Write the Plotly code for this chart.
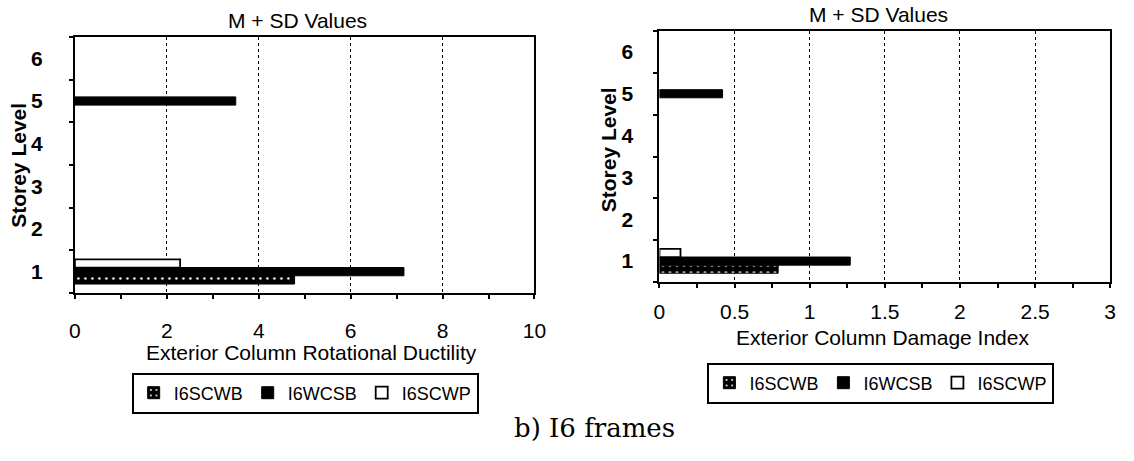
import plotly.graph_objects as go

# Storey levels (category axis) and M + SD response values per frame
storeys = ["1", "2", "3", "4", "5", "6"]
series_names = ["I6SCWB", "I6WCSB", "I6SCWP"]

ductility_scwb = [4.78, None, None, None, None, None]
ductility_wcsb = [7.16, None, None, None, 3.5, None]
ductility_scwp = [2.29, None, None, None, None, None]

damage_scwb = [0.79, None, None, None, None, None]
damage_wcsb = [1.27, None, None, None, 0.42, None]
damage_scwp = [0.14, None, None, None, None, None]

ductility_ticks = [0, 2, 4, 6, 8, 10]
damage_ticks = [0, 0.5, 1, 1.5, 2, 2.5, 3]
damage_ticktext = ["0", "0.5", "1", "1.5", "2", "2.5", "3"]

W, H = 1134, 461
FONT = "Liberation Sans, Arial, sans-serif"


def px_x(x):
    return x / W


def px_y(y):
    return 1 - y / H


def marker_style(name):
    if name == "I6SCWB":
        return dict(color="black", line=dict(color="black", width=1),
                    pattern=dict(shape=".", fgcolor="white", bgcolor="black",
                                 size=7, solidity=0.1, fillmode="replace"))
    if name == "I6WCSB":
        return dict(color="black", line=dict(color="black", width=1))
    return dict(color="white", line=dict(color="black", width=1.8))


fig = go.Figure()

panels = [
    ("x", "y", "legend", [ductility_scwb, ductility_wcsb, ductility_scwp]),
    ("x2", "y2", "legend2", [damage_scwb, damage_wcsb, damage_scwp]),
]
for xa, ya, lg, values in panels:
    for name, vals in zip(series_names, values):
        fig.add_trace(go.Bar(
            x=vals, y=storeys, orientation="h", name=name,
            marker=marker_style(name), xaxis=xa, yaxis=ya, legend=lg,
            hoverinfo="x+y+name",
        ))

axis_common = dict(showline=True, linecolor="black", linewidth=2, mirror=True,
                   zeroline=False, ticks="outside", tickcolor="black",
                   tickwidth=1.5, ticklen=4)
ytickfont = dict(size=21, family="Liberation Sans, Arial", weight="bold")

fig.update_layout(
    width=W, height=H,
    margin=dict(l=0, r=0, t=0, b=0),
    paper_bgcolor="white", plot_bgcolor="white",
    font=dict(family=FONT, color="black", size=21),
    barmode="group", bargap=0.42, bargroupgap=0,
    showlegend=True,
    xaxis=dict(domain=[px_x(70), px_x(537)], range=[0, 10], anchor="y",
               tickvals=ductility_ticks, showgrid=True, gridcolor="black",
               griddash="dot", gridwidth=1,
               minor=dict(dtick=1, ticks="outside", ticklen=4, tickcolor="black",
                          showgrid=False),
               tickfont=dict(size=21), ticklabelstandoff=14, **axis_common),
    yaxis=dict(domain=[px_y(293), px_y(37)], type="category",
               categoryorder="array", categoryarray=storeys, range=[-0.5, 5.5],
               anchor="x", tickson="boundaries", showgrid=False,
               tickfont=ytickfont, ticklabelstandoff=26, **axis_common),
    xaxis2=dict(domain=[px_x(664), px_x(1122)], range=[0, 3], anchor="y2",
                tickvals=damage_ticks, ticktext=damage_ticktext, showgrid=True,
                gridcolor="black", griddash="dot", gridwidth=1,
                minor=dict(dtick=0.25, ticks="outside", ticklen=4, tickcolor="black",
                           showgrid=False),
                tickfont=dict(size=21), ticklabelstandoff=6, **axis_common),
    yaxis2=dict(domain=[px_y(282), px_y(31)], type="category",
                categoryorder="array", categoryarray=storeys, range=[-0.5, 5.5],
                anchor="x2", tickson="boundaries", showgrid=False,
                tickfont=ytickfont, ticklabelstandoff=20, **axis_common),
    legend=dict(orientation="h", x=px_x(304), xanchor="center", y=px_y(393),
                yanchor="middle", bordercolor="black", borderwidth=2,
                bgcolor="white", font=dict(size=18), itemwidth=30,
                traceorder="normal", tracegroupgap=0),
    legend2=dict(orientation="h", x=px_x(889), xanchor="center", y=px_y(383),
                 yanchor="middle", bordercolor="black", borderwidth=2,
                 bgcolor="white", font=dict(size=18), itemwidth=30,
                 traceorder="normal", tracegroupgap=0),
)

annotations = [
    dict(text="M + SD Values", x=px_x(296), y=px_y(20)),
    dict(text="M + SD Values", x=px_x(887), y=px_y(15)),
    dict(text="Exterior Column Rotational Ductility", x=px_x(310), y=px_y(352)),
    dict(text="Exterior Column Damage Index", x=px_x(891), y=px_y(337)),
]
for a in annotations:
    fig.add_annotation(text=a["text"], x=a["x"], y=a["y"], xref="paper", yref="paper",
                       xanchor="center", yanchor="middle", showarrow=False,
                       font=dict(size=21, family=FONT))

# Rotated y-axis titles, placed just left of the storey numbers
for text, x, y in [("Storey Level", 12, 165), ("Storey Level", 612, 150)]:
    fig.add_annotation(text=text, x=px_x(x), y=px_y(y), xref="paper", yref="paper",
                       xanchor="center", yanchor="middle", showarrow=False,
                       textangle=-90,
                       font=dict(size=21, family=FONT, weight="bold"))

fig.add_annotation(text="b) I6 frames", x=px_x(598), y=px_y(428), xref="paper",
                   yref="paper", xanchor="center", yanchor="middle", showarrow=False,
                   font=dict(size=26, family="DejaVu Serif, Liberation Serif, serif"))

fig.write_html("out.html")
